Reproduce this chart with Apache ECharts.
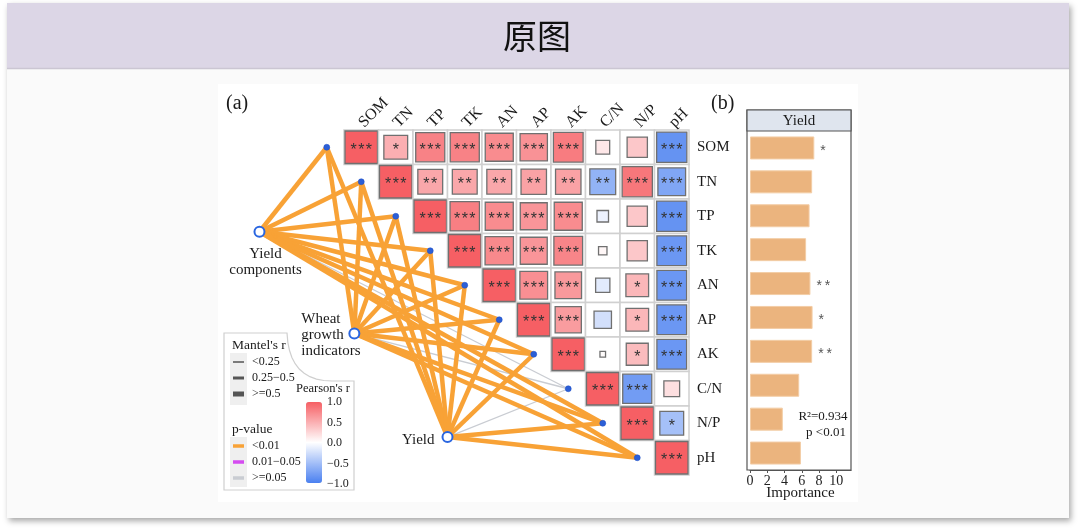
<!DOCTYPE html>
<html><head><meta charset="utf-8">
<script src="https://cdn.jsdelivr.net/npm/echarts@6/dist/echarts.min.js"></script>
<style>html,body{margin:0;padding:0;background:#ffffff}#c{width:1080px;height:530px}</style>
</head><body><div id="c"></div>
<script>
// ---------------- DATA ----------------
const variables = ['SOM','TN','TP','TK','AN','AP','AK','C/N','N/P','pH'];
// Pearson r, upper triangle: row i starts at column i
const corrR = [
  [1.00, 0.50, 0.78, 0.78, 0.72, 0.68, 0.82, 0.15, 0.35, -0.85],
  [1.00, 0.55, 0.55, 0.55, 0.58, 0.58, -0.60, 0.85, -0.70],
  [1.00, 0.80, 0.72, 0.66, 0.72, -0.10, 0.35, -0.85],
  [1.00, 0.74, 0.66, 0.76, 0.05, 0.35, -0.82],
  [1.00, 0.70, 0.64, -0.16, 0.45, -0.82],
  [1.00, 0.62, -0.25, 0.45, -0.82],
  [1.00, 0.02, 0.42, -0.82],
  [1.00, -0.78, 0.20],
  [1.00, -0.50],
  [1.00]
];
const corrSig = [
  ['***','*','***','***','***','***','***','','','***'],
  ['***','**','**','**','**','**','**','***','***'],
  ['***','***','***','***','***','','','***'],
  ['***','***','***','***','','','***'],
  ['***','***','***','','*','***'],
  ['***','***','','*','***'],
  ['***','','*','***'],
  ['***','***',''],
  ['***','*'],
  ['***']
];
// Mantel test: sources vs. soil variables
const mantelSources = ['Yield components','Wheat growth indicators','Yield'];
const mantelR_yieldComponents = [0.62, 0.58, 0.60, 0.57, 0.60, 0.59, 0.61, 0.12, 0.55, 0.60];
const mantelP_yieldComponents = [0.001,0.001,0.001,0.001,0.001,0.001,0.001,0.30,0.001,0.001];
const mantelR_wheatGrowth     = [0.60, 0.57, 0.58, 0.56, 0.59, 0.58, 0.60, 0.10, 0.54, 0.58];
const mantelP_wheatGrowth     = [0.001,0.001,0.001,0.001,0.001,0.001,0.001,0.35,0.001,0.001];
const mantelR_yield           = [0.63, 0.60, 0.61, 0.58, 0.62, 0.61, 0.62, 0.14, 0.56, 0.61];
const mantelP_yield           = [0.001,0.001,0.001,0.001,0.001,0.001,0.001,0.25,0.001,0.001];
// Random forest importance for Yield
const importance    = [7.45, 7.2, 6.9, 6.5, 7.0, 7.25, 7.2, 5.7, 3.8, 5.9];
const importanceSig = ['*','','','','**','*','**','','',''];
const importanceTicks = [0, 2, 4, 6, 8, 10];
const pearsonTicks = ['1.0','0.5','0.0','\u22120.5','\u22121.0'];

// ---------------- LAYOUT (not data) ----------------
const srcPos = [[-2.45, 2.95], [0.3, 5.9], [3.0, 8.9]]; // in heatmap cell units
const SERIF = '"Liberation Serif", "Times New Roman", serif';

// build heatmap items
const heatData = [], heatSig = [];
corrR.forEach((row, i) => row.forEach((r, k) => {
  heatData.push([i + k, i, r]);
  heatSig.push(corrSig[i][k]);
}));

// build network
const mantelR = [mantelR_yieldComponents, mantelR_wheatGrowth, mantelR_yield];
const mantelP = [mantelP_yieldComponents, mantelP_wheatGrowth, mantelP_yield];
const pColor = p => p < 0.01 ? '#f8a236' : (p < 0.05 ? '#d54cf0' : '#c9ccd2');
const rWidth = r => r < 0.25 ? 1.3 : (r < 0.5 ? 2.6 : 4.5);

const srcLabels = [
  {show:true, formatter:'Yield\ncomponents', position:[12,20], align:'center', verticalAlign:'top'},
  {show:true, formatter:'Wheat\ngrowth\nindicators', position:[-47,8], align:'left', verticalAlign:'middle'},
  {show:true, formatter:'Yield', position:[-7,9], align:'right', verticalAlign:'middle'}
];
const nodes = [];
variables.forEach((v, j) => nodes.push({
  name: 't_' + v, value: [j - 0.5, j + 0.5], symbolSize: 6,
  itemStyle: {color: '#2c5fd6', borderColor: '#1d4cc4', borderWidth: 0.5},
  label: {show: false}
}));
mantelSources.forEach((s, k) => nodes.push({
  name: s, value: srcPos[k], symbolSize: 10,
  itemStyle: {color: '#ffffff', borderColor: '#2a66e0', borderWidth: 2},
  label: Object.assign({fontFamily: SERIF, fontSize: 15, lineHeight: 16, color: '#1a1a1a'}, srcLabels[k])
}));
const links = [];
mantelSources.forEach((s, k) => variables.forEach((v, j) => {
  links.push({source: s, target: 't_' + v,
    lineStyle: {color: pColor(mantelP[k][j]), width: rWidth(mantelR[k][j]), opacity: 1, curveness: 0}});
}));
links.sort((a, b) => (a.lineStyle.color === '#f8a236') - (b.lineStyle.color === '#f8a236'));

// ---------------- GRAPHICS ----------------
function txt(x, y, t, size, align) {
  return {type:'text', x:x, y:y, z:1, style:{text:t, font: size + 'px ' + SERIF, fill:'#1a1a1a',
    align: align || 'left', textAlign: align || 'left', verticalAlign:'middle', textVerticalAlign:'middle'}};
}
function seg(x1, y1, x2, y2, color, w) {
  return {type:'line', z:1, shape:{x1:x1, y1:y1, x2:x2, y2:y2}, style:{stroke:color, lineWidth:w}};
}
// legend panel outline with curved notch (quadratic curve sampled)
const panelPts = [[224,333],[287,333]];
for (let t = 0.1; t <= 1.001; t += 0.1) {
  const a = (1-t)*(1-t), b = 2*(1-t)*t, c = t*t;
  panelPts.push([a*287 + b*289 + c*332, a*333 + b*381 + c*381]);
}
panelPts.push([354,381],[354,490],[224,490]);

const graphics = [
  {type:'rect', z:-5, shape:{x:7, y:3, width:1062, height:515},
    style:{fill:'#fafafa', shadowBlur:6, shadowOffsetX:2, shadowOffsetY:3, shadowColor:'rgba(0,0,0,0.35)'}},
  {type:'rect', z:-4, shape:{x:7, y:3, width:1062, height:65}, style:{fill:'#dcd6e6'}},
  seg(7, 68.5, 1069, 68.5, '#cbc6d3', 1.5),
  {type:'text', x:537, y:36, z:1, style:{text:'原图', font:'34px "Noto Sans CJK SC"', fill:'#111',
    align:'center', textAlign:'center', verticalAlign:'middle', textVerticalAlign:'middle'}},
  {type:'rect', z:-3, shape:{x:218, y:84, width:640, height:418}, style:{fill:'#ffffff'}},
  txt(226, 104, '(a)', 20),
  txt(711, 104, '(b)', 20),
  {type:'polygon', z:0, shape:{points:panelPts}, style:{fill:'#ffffff', stroke:'#cfcfcf', lineWidth:1.2}},
  txt(232, 345, "Mantel's r", 13.5),
  {type:'rect', z:1, shape:{x:230, y:353, width:17, height:52}, style:{fill:'#efefef'}},
  seg(233, 362, 244, 362, '#555', 1.5),
  seg(233, 378, 244, 378, '#555', 3),
  seg(233, 394, 244, 394, '#555', 5),
  txt(252, 362, '<0.25', 12), txt(252, 378, '0.25\u22120.5', 12), txt(252, 394, '>=0.5', 12),
  txt(232, 429, 'p-value', 13.5),
  {type:'rect', z:1, shape:{x:230, y:437, width:17, height:50}, style:{fill:'#efefef'}},
  seg(233, 446, 244, 446, '#f8a236', 3.5),
  seg(233, 462, 244, 462, '#d54cf0', 3.5),
  seg(233, 478, 244, 478, '#c9ccd2', 3.5),
  txt(252, 446, '<0.01', 12), txt(252, 462, '0.01\u22120.05', 12), txt(252, 478, '>=0.05', 12),
  txt(296, 389, "Pearson's r", 12.5),
  {type:'rect', z:1, shape:{x:747, y:110, width:104, height:360}, style:{fill:'none', stroke:'#555', lineWidth:1.2}},
  {type:'rect', z:1, shape:{x:747, y:110, width:104, height:21}, style:{fill:'#dfe5ee', stroke:'#555', lineWidth:1.2}},
  txt(799, 121, 'Yield', 15, 'center'),
  txt(823, 417, 'R\u00b2=0.934', 13, 'center'),
  txt(826, 433, 'p <0.01', 13, 'center')
];
pearsonTicks.forEach((t, i) => graphics.push(txt(327, 402 + i * 20.5, t, 12)));

// ---------------- CHART ----------------
const chart = echarts.init(document.getElementById('c'));
chart.setOption({
  animation: false,
  backgroundColor: '#ffffff',
  graphic: {elements: graphics},
  grid: [
    {left:344, top:130, width:345, height:345},
    {left:206, top:130, width:483, height:345},
    {left:750, top:131, width:101, height:339}
  ],
  xAxis: [
    {gridIndex:0, type:'category', data:variables, position:'top',
      axisLine:{show:false}, axisTick:{show:false}, splitLine:{show:false},
      axisLabel:{interval:0, rotate:-45, margin:5, fontFamily:SERIF, fontSize:16, color:'#1a1a1a'}},
    {gridIndex:1, type:'value', min:-4, max:10, show:false},
    {gridIndex:2, type:'value', min:0, max:11.7, interval:2, splitLine:{show:false},
      axisLine:{show:true, lineStyle:{color:'#555', width:1.2}},
      axisTick:{show:true, length:3, lineStyle:{color:'#555'}},
      axisLabel:{showMaxLabel:false, margin:4, fontFamily:SERIF, fontSize:14, color:'#222',
        formatter: v => importanceTicks.indexOf(v) >= 0 ? String(v) : ''},
      name:'Importance', nameLocation:'middle', nameGap:16, nameMoveOverlap:false,
      nameTextStyle:{fontFamily:SERIF, fontSize:15, color:'#1a1a1a', verticalAlign:'top'}}
  ],
  yAxis: [
    {gridIndex:0, type:'category', data:variables, inverse:true, position:'right',
      axisLine:{show:false}, axisTick:{show:false}, splitLine:{show:false},
      axisLabel:{interval:0, margin:8, fontFamily:SERIF, fontSize:15, color:'#1a1a1a'}},
    {gridIndex:1, type:'value', min:0, max:10, inverse:true, show:false},
    {gridIndex:2, type:'category', data:variables, inverse:true,
      axisLine:{show:false}, axisTick:{show:false}, axisLabel:{show:false}, splitLine:{show:false}}
  ],
  visualMap: [{
    type:'continuous', min:-1, max:1, dimension:2, seriesIndex:0,
    inRange:{color:['#4a80f0', '#ffffff', '#f65f64']},
    left:306, top:402, itemWidth:16, itemHeight:81, padding:0,
    calculable:false, orient:'vertical', hoverLink:false
  }],
  series: [
    {
      type:'custom', xAxisIndex:0, yAxisIndex:0, data:heatData, silent:true, z:3,
      encode:{x:0, y:1},
      renderItem: function (params, api) {
        const p = api.coord([api.value(0), api.value(1)]);
        const s = api.size([1, 1]);
        const w = s[0], h = s[1];
        const r = api.value(2);
        const f = Math.min(1, Math.pow(Math.abs(r), 0.45));
        const iw = (w - 2) * f, ih = (h - 2) * f;
        const sig = heatSig[params.dataIndex].split('').join('\u200a');
        return {type:'group', children:[
          {type:'rect', shape:{x:p[0]-w/2, y:p[1]-h/2, width:w, height:h},
            style:{fill:'#ffffff', stroke:'#d0d0d0', lineWidth:1.5}},
          {type:'rect', shape:{x:p[0]-iw/2, y:p[1]-ih/2, width:iw, height:ih},
            style:{fill:api.visual('color'), stroke:'#707070', lineWidth:1.3}},
          {type:'text', style:{text:sig, x:p[0], y:p[1]+3, font:'16px "Liberation Sans"', fill:'#333',
            align:'center', textAlign:'center', verticalAlign:'middle', textVerticalAlign:'middle'}}
        ]};
      }
    },
    {
      type:'graph', coordinateSystem:'cartesian2d', xAxisIndex:1, yAxisIndex:1,
      data:nodes, links:links, silent:true, z:2, roam:false,
      edgeSymbol:['none','none']
    },
    {
      type:'bar', xAxisIndex:2, yAxisIndex:2, data:importance, barWidth:23, silent:true, z:3,
      itemStyle:{color:'#ebb47e', borderColor:'#f3cda6', borderWidth:1},
      label:{show:true, position:'right', distance:6, offset:[0,3], color:'#555',
        fontFamily:'"Liberation Sans"', fontSize:14,
        formatter: p => importanceSig[p.dataIndex].split('').join('\u2009')}
    }
  ]
});
</script></body></html>
